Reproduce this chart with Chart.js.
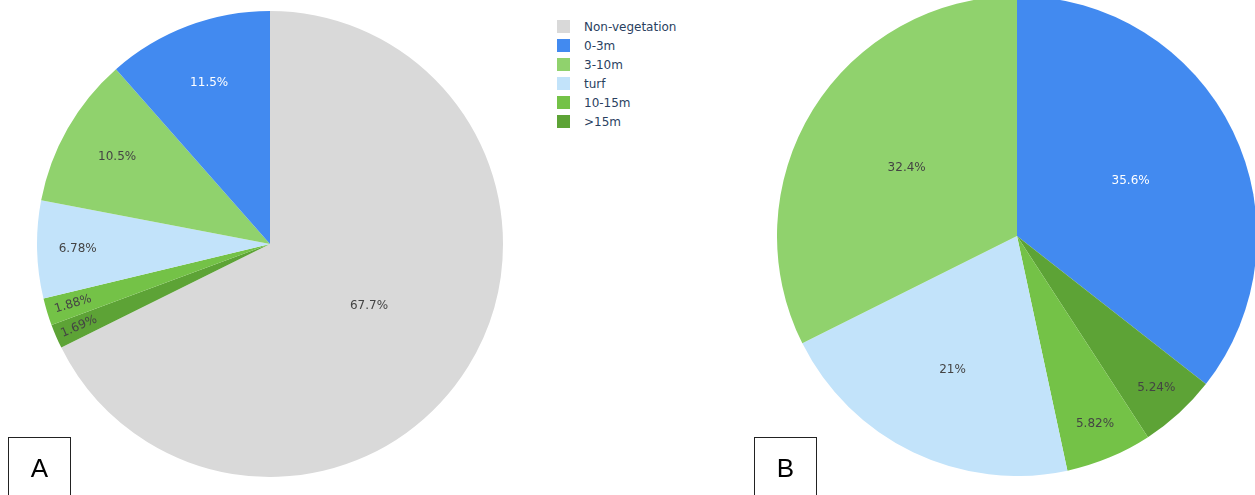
<!DOCTYPE html>
<html>
<head>
<meta charset="utf-8">
<script src="https://cdn.jsdelivr.net/npm/chart.js@4"></script>
<style>
  html, body { margin: 0; padding: 0; background: #fff; width: 1255px; height: 495px; overflow: hidden; position: relative; }
  .wrap { position: absolute; }
  #legend { position: absolute; left: 557px; top: 17px; font-family: "DejaVu Sans", Verdana, sans-serif; font-size: 12px; color: #2a3f5f; }
  .li { height: 19px; display: flex; align-items: center; position: relative; }
  .sw { width: 13px; height: 13px; margin-right: 14px; }
  .tag { position: absolute; border: 1px solid #222; border-bottom: none; top: 437px; width: 62px; height: 70px; font-family: "Liberation Sans", Arial, sans-serif; font-size: 26px; color: #000; box-sizing: border-box; }
  .tag span { position: absolute; left: 0; width: 100%; text-align: center; top: 15px; }
</style>
</head>
<body>
<div class="wrap" style="left:37px; top:11px; width:466px; height:466px;"><canvas id="pieA" width="466" height="466"></canvas></div>
<div class="wrap" style="left:777px; top:-4px; width:480px; height:480px;"><canvas id="pieB" width="480" height="480"></canvas></div>
<div id="legend"></div>
<div class="tag" style="left:8px; width:63px;"><span>A</span></div>
<div class="tag" style="left:754px; width:63px;"><span>B</span></div>
<script>
// ---- data ----
const categories = ['Non-vegetation', '0-3m', '3-10m', 'turf', '10-15m', '>15m'];
const colors = ['#d9d9d9', '#428af0', '#90d26d', '#c2e3fa', '#74c247', '#5da336'];
const valuesA = [67.7, 11.5, 10.5, 6.78, 1.88, 1.69];
const valuesB = [null, 35.6, 32.4, 21, 5.82, 5.24];
// clockwise drawing order starting at 12 o'clock
const orderA = [0, 5, 4, 3, 2, 1];
const orderB = [1, 5, 4, 3, 2];

const FONT = '"DejaVu Sans", Verdana, sans-serif';

// ---- legend ----
const legend = document.getElementById('legend');
categories.forEach((c, i) => {
  const row = document.createElement('div'); row.className = 'li';
  const sw = document.createElement('div'); sw.className = 'sw'; sw.style.background = colors[i];
  const t = document.createElement('span'); t.textContent = c;
  row.appendChild(sw); row.appendChild(t); legend.appendChild(row);
});

// ---- plotly-like inside labels ----
const TEXTPAD = 3;
function calcMaxHalfSize(a, halfAngle, r, ring) {
  const q = a + 1 / (2 * Math.tan(halfAngle));
  return r * Math.min(1 / (Math.sqrt(q * q + 0.5) + q), ring / (Math.sqrt(a * a + ring / 2) + a));
}
function calcRCenter(a, b) { return Math.cos(b) - a * b; }
function readable(theta) {
  let t = theta;
  while (t > Math.PI) t -= 2 * Math.PI;
  while (t < -Math.PI) t += 2 * Math.PI;
  if (Math.cos(t) < 0) t += Math.PI;
  return t;
}
function brightness(hex) {
  const r = parseInt(hex.slice(1, 3), 16), g = parseInt(hex.slice(3, 5), 16), b = parseInt(hex.slice(5, 7), 16);
  return (r * 299 + g * 587 + b * 114) / 1000;
}
const labelPlugin = {
  id: 'insideLabels',
  afterDatasetsDraw(chart) {
    const ctx = chart.ctx;
    const meta = chart.getDatasetMeta(0);
    const ds = chart.data.datasets[0];
    const total = ds.data.reduce((s, v) => s + v, 0);
    const fontSize = 12;
    meta.data.forEach((arc, i) => {
      const v = ds.data[i];
      const txt = chart.data.labelsText[i];
      const p = arc.getProps(['x', 'y', 'startAngle', 'endAngle', 'outerRadius'], true);
      const R = p.outerRadius;
      const mid = (p.startAngle + p.endAngle) / 2;
      const half = Math.PI * Math.min(v / total, 0.5);
      ctx.save();
      ctx.font = fontSize + 'px ' + FONT;
      const w = ctx.measureText(txt).width;
      const h = 15;
      let best;
      const rIns = Math.min(1 / (1 + 1 / Math.sin(half)), 0.5);
      const horiz = { scale: rIns * R * 2 / Math.sqrt(w * w + h * h), rCenter: 1 - rIns, rotate: 0 };
      if (horiz.scale >= 1) {
        best = horiz;
      } else {
        const rr = Math.max(0, R - 2 * TEXTPAD);
        const aT = h / w;
        const sT = calcMaxHalfSize(aT, half, rr, 1);
        const tan = { scale: sT * 2 / w, rCenter: calcRCenter(aT, sT / rr), rotate: readable(mid + Math.PI / 2) };
        const aR = w / h;
        const sR = calcMaxHalfSize(aR, half, rr, 1);
        const rad = { scale: sR * 2 / h, rCenter: calcRCenter(aR, sR / rr), rotate: readable(mid) };
        best = [horiz, tan, rad].reduce((m, t) => t.scale > m.scale ? t : m);
      }
      const scale = Math.min(1, best.scale);
      const cx = p.x + best.rCenter * R * Math.cos(mid);
      const cy = p.y + best.rCenter * R * Math.sin(mid);
      ctx.translate(cx, cy);
      ctx.rotate(best.rotate);
      ctx.font = (fontSize * scale) + 'px ' + FONT;
      ctx.fillStyle = brightness(ds.backgroundColor[i]) < 128.5 ? '#ffffff' : '#444444';
      ctx.textAlign = 'center';
      ctx.textBaseline = 'middle';
      ctx.fillText(txt, 0, 0);
      ctx.restore();
    });
  }
};

function makePie(id, values, order) {
  const data = order.map(i => values[i]);
  const cfg = {
    type: 'pie',
    data: {
      labels: order.map(i => categories[i]),
      labelsText: order.map(i => values[i] + '%'),
      datasets: [{
        data: data,
        backgroundColor: order.map(i => colors[i]),
        borderWidth: 0,
        hoverOffset: 0
      }]
    },
    options: {
      responsive: false,
      animation: false,
      layout: { padding: 0 },
      plugins: { legend: { display: false }, tooltip: { enabled: false } }
    },
    plugins: [labelPlugin]
  };
  return new Chart(document.getElementById(id), cfg);
}
makePie('pieA', valuesA, orderA);
makePie('pieB', valuesB, orderB);
</script>
</body>
</html>
